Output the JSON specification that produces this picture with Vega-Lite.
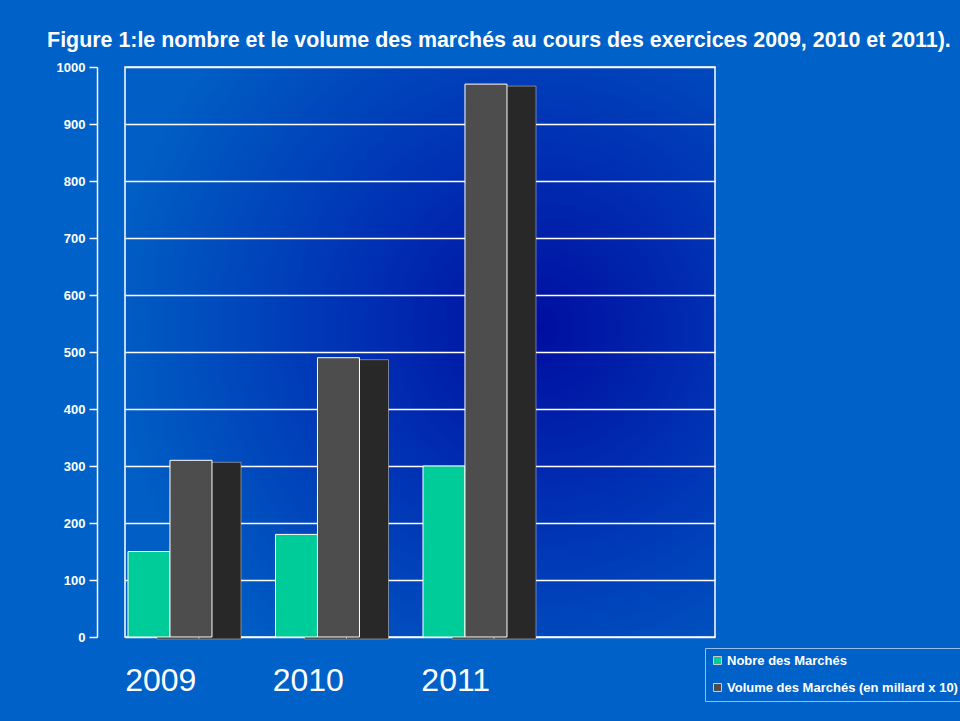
{
  "$schema": "https://vega.github.io/schema/vega-lite/v6.json",
  "autosize": {"type": "none"},
  "padding": {"left": 125, "top": 67, "right": 245, "bottom": 84},
  "width": 590,
  "height": 570,
  "background": "#0062c8",
  "title": {
    "text": "Figure 1:le nombre et le volume des marchés au cours des  exercices 2009, 2010 et 2011).",
    "anchor": "start",
    "dx": -9,
    "dy": 26,
    "offset": 19,
    "baseline": "alphabetic",
    "font": "Liberation Sans",
    "fontSize": 21.4,
    "fontWeight": "bold",
    "color": "white"
  },
  "config": {
    "view": {
      "stroke": "white",
      "strokeWidth": 1.5,
      "fill": {
        "gradient": "radial",
        "x1": 0.7, "y1": 0.46, "r1": 0,
        "x2": 0.7, "y2": 0.46, "r2": 0.72,
        "stops": [
          {"offset": 0, "color": "#000ea0"},
          {"offset": 0.45, "color": "#0032b4"},
          {"offset": 1, "color": "#005ec4"}
        ]
      }
    }
  },
  "data": {
    "values": [
      {"year": "2009", "series": "Nobre des Marchés", "value": 150},
      {"year": "2009", "series": "Volume des Marchés (en millard x 10)", "value": 310},
      {"year": "2010", "series": "Nobre des Marchés", "value": 180},
      {"year": "2010", "series": "Volume des Marchés (en millard x 10)", "value": 490},
      {"year": "2011", "series": "Nobre des Marchés", "value": 300},
      {"year": "2011", "series": "Volume des Marchés (en millard x 10)", "value": 970}
    ]
  },
  "encoding": {
    "x": {
      "field": "year",
      "type": "nominal",
      "scale": {"domain": ["2009", "2010", "2011", "2012"], "paddingInner": 0, "paddingOuter": 0},
      "axis": {
        "values": ["2009", "2010", "2011"],
        "title": null,
        "ticks": false,
        "domain": false,
        "labelFontSize": 32,
        "labelColor": "white",
        "labelFont": "Liberation Sans",
        "labelAngle": 0,
        "labelOffset": -38,
        "labelBaseline": "alphabetic",
        "labelPadding": 53
      }
    },
    "y": {
      "field": "value",
      "type": "quantitative",
      "scale": {"domain": [0, 1000]},
      "axis": {
        "values": [0, 100, 200, 300, 400, 500, 600, 700, 800, 900, 1000],
        "format": "d",
        "title": null,
        "offset": 28,
        "domainColor": "white",
        "domainWidth": 1.5,
        "tickColor": "white",
        "tickWidth": 1.5,
        "tickSize": 8,
        "labelColor": "white",
        "labelFont": "Liberation Sans",
        "labelFontWeight": "bold",
        "labelFontSize": 13,
        "labelPadding": 4,
        "gridColor": "white",
        "gridWidth": 1.5,
        "gridOpacity": 1
      }
    }
  },
  "resolve": {"scale": {"xOffset": "independent"}},
  "layer": [
    {
      "mark": {"type": "bar", "yOffset": 2, "color": "#282828", "stroke": "#bbbbbb", "strokeWidth": 0.6},
      "encoding": {
        "xOffset": {
          "field": "series",
          "type": "nominal",
          "scale": {
            "domain": ["Nobre des Marchés", "Volume des Marchés (en millard x 10)"],
            "paddingInner": 0,
            "paddingOuter": 0.756,
            "align": 0.504
          }
        }
      }
    },
    {
      "mark": {"type": "bar", "stroke": "white", "strokeWidth": 1},
      "encoding": {
        "xOffset": {
          "field": "series",
          "type": "nominal",
          "scale": {
            "domain": ["Nobre des Marchés", "Volume des Marchés (en millard x 10)"],
            "paddingInner": 0,
            "paddingOuter": 0.756,
            "align": 0.047
          }
        },
        "color": {
          "field": "series",
          "type": "nominal",
          "scale": {
            "domain": ["Nobre des Marchés", "Volume des Marchés (en millard x 10)"],
            "range": ["#00cc99", "#4d4d4d"]
          },
          "legend": {
            "orient": "none",
            "legendX": 580,
            "legendY": 581,
            "title": null,
            "symbolType": "square",
            "symbolSize": 64,
            "symbolStrokeColor": "#cccccc",
            "symbolStrokeWidth": 1,
            "labelColor": "white",
            "labelFont": "Liberation Sans",
            "labelFontWeight": "bold",
            "labelFontSize": 13,
            "labelOffset": 3,
            "labelLimit": 400,
            "rowPadding": 13,
            "padding": 6,
            "strokeColor": "#9dbbe8"
          }
        }
      }
    }
  ]
}
